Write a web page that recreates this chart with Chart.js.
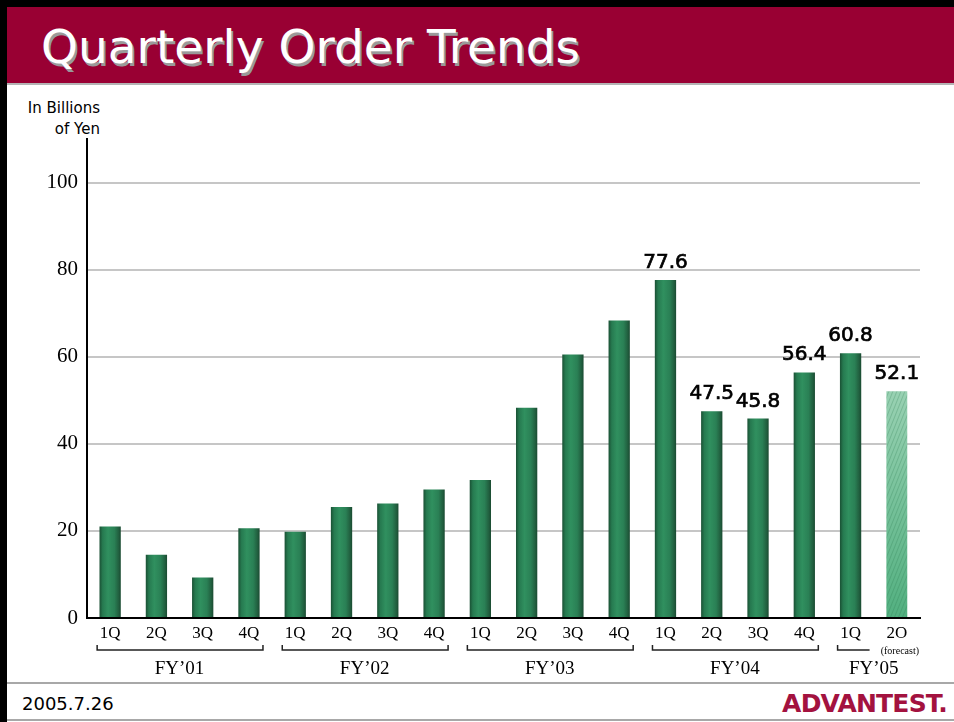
<!DOCTYPE html>
<html>
<head>
<meta charset="utf-8">
<script src="https://cdn.jsdelivr.net/npm/chart.js@4.4.1/dist/chart.umd.min.js"></script>
<style>
  body { margin: 0; background: #fff; }
  #page { position: relative; width: 954px; height: 722px; overflow: hidden; background: #fff; }
  #topBorder { position: absolute; left: 0; top: 0; width: 954px; height: 7px; background: #000; }
  #leftBorder { position: absolute; left: 0; top: 0; width: 7px; height: 722px; background: #000; }
  #titleBar { position: absolute; left: 7px; top: 7px; width: 947px; height: 76px; background: #990033; border-bottom: 2px solid #b4b4b4; }
  #title { position: absolute; left: 41px; top: 24px; font: 47px "DejaVu Sans", sans-serif; line-height: 46px; color: #fff; text-shadow: 2px 3px 0 #9a9a9a; white-space: nowrap; }
  #unit { position: absolute; left: 7px; top: 98px; width: 93px; text-align: right; font: 15px "DejaVu Sans", sans-serif; line-height: 21px; color: #000; }
  #footLine1 { position: absolute; left: 7px; top: 682px; width: 947px; height: 2px; background: #a8a8a8; }
  #footLine2 { position: absolute; left: 7px; top: 719px; width: 947px; height: 2px; background: #a8a8a8; }
  #date { position: absolute; left: 22px; top: 693px; font: 18px "DejaVu Sans", sans-serif; line-height: 22px; color: #000; }
  #logo { position: absolute; right: 7px; top: 691px; font: bold 25px "DejaVu Sans", sans-serif; line-height: 26px; color: #a3123f; letter-spacing: -0.8px; }
  #wrap { position: absolute; left: 7px; top: 85px; width: 947px; height: 597px; }
</style>
</head>
<body>
<div id="page">
  <div id="titleBar"></div>
  <div id="topBorder"></div>
  <div id="leftBorder"></div>
  <div id="title">Quarterly Order Trends</div>
  <div id="unit">In Billions<br>of Yen</div>
  <div id="wrap"><canvas id="orders" width="947" height="597"></canvas></div>
  <div id="footLine1"></div>
  <div id="footLine2"></div>
  <div id="date">2005.7.26</div>
  <div id="logo">ADVANTEST.</div>
</div>

<script>
/* ================= DATA ================= */
const quarters = ["1Q", "2Q", "3Q", "4Q", "1Q", "2Q", "3Q", "4Q", "1Q", "2Q", "3Q", "4Q", "1Q", "2Q", "3Q", "4Q", "1Q", "2O"];
const orders = [21.0, 14.5, 9.3, 20.6, 19.8, 25.5, 26.3, 29.5, 31.7, 48.3, 60.5, 68.3, 77.6, 47.5, 45.8, 56.4, 60.8, 52.1];
const fiscalYears = ["FY\u201901", "FY\u201902", "FY\u201903", "FY\u201904", "FY\u201905"];
const quartersPerYear = [4, 4, 4, 4, 2];
const yTicks = [0, 20, 40, 60, 80, 100];
const forecastIndex = 17;
const labelFrom = 12; // values printed from FY'04 on

/* ================= STYLE ================= */
const SERIF = '"Liberation Serif", "Times New Roman", serif';
const SANS = '"DejaVu Sans", sans-serif';
const BAR_PCT = 0.46;

function barEdges(chart, i) {
  const x = chart.scales.x;
  const cx = x.getPixelForValue(i);
  const half = (x.getPixelForValue(1) - x.getPixelForValue(0)) * BAR_PCT / 2;
  return [cx - half, cx + half];
}

function forecastFill(chart, x0, x1) {
  const area = chart.chartArea;
  const off = document.createElement("canvas");
  off.width = chart.width;
  off.height = chart.height;
  const c = off.getContext("2d");
  const g = c.createLinearGradient(0, area.top + 150, 0, area.bottom);
  g.addColorStop(0, "#b8e0c9");
  g.addColorStop(1, "#52b080");
  c.fillStyle = g;
  c.fillRect(x0, area.top, x1 - x0, area.bottom - area.top);
  c.save();
  c.beginPath();
  c.rect(x0, area.top, x1 - x0, area.bottom - area.top);
  c.clip();
  c.strokeStyle = "rgba(40,120,75,0.25)";
  c.lineWidth = 1;
  for (let s = x0 - 400; s < x1 + 10; s += 4) {
    c.beginPath();
    c.moveTo(s, area.bottom);
    c.lineTo(s + 200, area.bottom - 500);
    c.stroke();
  }
  c.restore();
  return chart.ctx.createPattern(off, "no-repeat");
}

function barFill(ctx) {
  const chart = ctx.chart;
  if (!chart.chartArea || ctx.dataIndex === undefined) return "#2a7d52";
  const [x0, x1] = barEdges(chart, ctx.dataIndex);
  if (ctx.dataIndex === forecastIndex) return forecastFill(chart, x0, x1);
  const g = chart.ctx.createLinearGradient(x0, 0, x1, 0);
  g.addColorStop(0, "#1a5034");
  g.addColorStop(0.15, "#267a50");
  g.addColorStop(0.4, "#30905f");
  g.addColorStop(0.7, "#2a8055");
  g.addColorStop(0.9, "#215f3f");
  g.addColorStop(1, "#1a4a31");
  return g;
}

/* ================= VALUE LABELS + FY BRACKETS ================= */
const decorations = {
  id: "decorations",
  afterDatasetsDraw(chart) {
    const c = chart.ctx;
    const meta = chart.getDatasetMeta(0);
    c.save();
    c.fillStyle = "#000";
    c.strokeStyle = "#000";
    c.lineWidth = 0.7;
    c.font = "20px " + SANS;
    c.textAlign = "center";
    c.textBaseline = "alphabetic";
    for (let i = labelFrom; i < orders.length; i++) {
      const bar = meta.data[i];
      const txt = orders[i].toFixed(1);
      c.fillText(txt, bar.x, bar.y - 12);
      c.strokeText(txt, bar.x, bar.y - 12);
    }
    c.restore();
  },
  afterDraw(chart) {
    const c = chart.ctx;
    const x = chart.scales.x;
    const base = chart.chartArea.bottom;
    const yBr = base + 32;
    c.save();
    c.strokeStyle = "#222";
    c.lineWidth = 1.5;
    c.fillStyle = "#000";
    c.textAlign = "center";
    c.textBaseline = "middle";
    let start = 0;
    quartersPerYear.forEach((n, k) => {
      const end = start + n - 1;
      const hasForecast = forecastIndex >= start && forecastIndex <= end;
      const brEnd = hasForecast ? forecastIndex - 1 : end;
      const left = x.getPixelForValue(start) - 13;
      const right = x.getPixelForValue(brEnd) + (hasForecast ? 19 : 14);
      c.beginPath();
      c.moveTo(left, yBr - 5);
      c.lineTo(left, yBr);
      c.lineTo(right, yBr);
      if (!hasForecast) c.lineTo(right, yBr - 5);
      c.stroke();
      const mid = (x.getPixelForValue(start) + x.getPixelForValue(end)) / 2;
      c.font = "19px " + SERIF;
      c.fillText(fiscalYears[k], mid, base + 51);
      start = end + 1;
    });
    c.font = "10px " + SERIF;
    c.fillText("(forecast)", x.getPixelForValue(forecastIndex) + 3, base + 33);
    c.restore();
  }
};

/* ================= CHART ================= */
new Chart(document.getElementById("orders"), {
  type: "bar",
  data: {
    labels: quarters,
    datasets: [{
      data: orders,
      backgroundColor: barFill,
      borderWidth: 0,
      barPercentage: BAR_PCT,
      categoryPercentage: 1
    }]
  },
  options: {
    responsive: false,
    animation: false,
    events: [],
    layout: { padding: { top: 54, right: 34, left: 0, bottom: 0 } },
    plugins: { legend: { display: false }, tooltip: { enabled: false } },
    scales: {
      x: {
        offset: true,
        grid: { display: false, drawTicks: false },
        border: { display: true, color: "#000", width: 2 },
        ticks: { color: "#000", font: { family: SERIF, size: 17 }, padding: 5, maxRotation: 0, autoSkip: false },
        afterFit(scale) { scale.height = 64; }
      },
      y: {
        min: 0,
        max: 110,
        grid: { color: "#c6c6c6", lineWidth: 2, drawTicks: false },
        border: { display: true, color: "#000", width: 2 },
        ticks: { color: "#000", font: { family: SERIF, size: 21 }, padding: 9, stepSize: 20 },
        afterBuildTicks(scale) { scale.ticks = yTicks.map(v => ({ value: v })); },
        afterFit(scale) { scale.width = 80; }
      }
    }
  },
  plugins: [decorations]
});
</script>
</body>
</html>
